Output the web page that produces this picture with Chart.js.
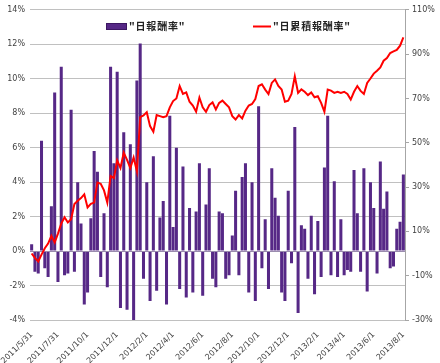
<!DOCTYPE html>
<html><head><meta charset="utf-8">
<script src="https://cdn.jsdelivr.net/npm/chart.js@4"></script>
<style>html,body{margin:0;padding:0;background:#fff}canvas{display:block}</style>
</head><body>
<canvas id="c" width="440" height="363"></canvas>
<script>
// Weekly dates (categories)
const categories = [
'2011/6/3','2011/6/10','2011/6/17','2011/6/24','2011/7/1','2011/7/8','2011/7/15','2011/7/22','2011/7/29','2011/8/5','2011/8/12','2011/8/19','2011/8/26','2011/9/2','2011/9/9','2011/9/16','2011/9/23','2011/9/30','2011/10/7','2011/10/14','2011/10/21','2011/10/28','2011/11/4','2011/11/11','2011/11/18','2011/11/25','2011/12/2','2011/12/9','2011/12/16','2011/12/23','2011/12/30',
'2012/1/6','2012/1/13','2012/1/20','2012/1/27','2012/2/3','2012/2/10','2012/2/17','2012/2/24','2012/3/2','2012/3/9','2012/3/16','2012/3/23','2012/3/30','2012/4/6','2012/4/13','2012/4/20','2012/4/27','2012/5/4','2012/5/11','2012/5/18','2012/5/25','2012/6/1','2012/6/8','2012/6/15','2012/6/22','2012/6/29','2012/7/6','2012/7/13','2012/7/20','2012/7/27','2012/8/3','2012/8/10','2012/8/17','2012/8/24','2012/8/31','2012/9/7','2012/9/14','2012/9/21','2012/9/28','2012/10/5','2012/10/12','2012/10/19','2012/10/26','2012/11/2','2012/11/9','2012/11/16','2012/11/23','2012/11/30','2012/12/7','2012/12/14','2012/12/21','2012/12/28',
'2013/1/4','2013/1/11','2013/1/18','2013/1/25','2013/2/1','2013/2/8','2013/2/15','2013/2/22','2013/3/1','2013/3/8','2013/3/15','2013/3/22','2013/3/29','2013/4/5','2013/4/12','2013/4/19','2013/4/26','2013/5/3','2013/5/10','2013/5/17','2013/5/24','2013/5/31','2013/6/7','2013/6/14','2013/6/21','2013/6/28','2013/7/5','2013/7/12','2013/7/19','2013/7/26','2013/8/2'
];

// "日報酬率" (%), left axis
const dailyReturn = [
0.4,-1.2,-1.3,6.4,-1.0,-1.5,2.6,9.2,-1.8,10.7,-1.4,-1.3,8.2,-1.2,4.0,1.6,-3.1,-2.4,1.9,5.8,
4.6,-1.5,2.2,-2.1,10.7,5.1,10.4,-3.3,6.9,-3.4,6.2,-4.0,9.9,12.05,-1.6,4.0,-2.9,5.5,-2.3,1.95,
2.9,-3.1,7.85,1.4,6.0,-2.2,4.9,-2.7,2.5,-2.4,2.3,5.1,-2.6,2.7,4.8,-1.6,-2.1,2.3,2.2,-1.6,
-1.4,0.9,3.5,-1.4,4.3,5.1,-2.4,4.0,-2.9,8.4,-1.0,1.85,-2.2,4.8,3.1,2.05,-2.4,-2.9,3.5,-0.7,
7.2,-3.6,1.5,1.3,-1.6,2.05,-2.5,1.75,-1.5,4.85,7.85,-1.4,4.05,-1.5,1.85,-1.4,-1.1,-1.2,4.7,2.2,
-1.2,4.8,-2.35,4.0,2.5,-1.3,5.2,2.45,3.45,-1.0,-0.9,1.3,1.7,4.45
];

// "日累積報酬率" (%), right axis
const cumulativeReturn = [
0,-2,-3.6,-0.5,2.4,4.5,8,5,9,13.5,16.4,14,15.5,22.3,23.8,25,26.7,20.8,22.4,23,
32,31.5,28.5,23,35,34,42,38.6,45.5,42.3,38.6,43.3,37.1,61.6,62.3,63.8,57.5,55,62.5,62,
61.5,62,66,68.8,70,75.6,72,72.7,68.5,66.8,64,70.4,66,64,67,68.2,65,68,69,67.5,
66,62,60.5,62.5,61,64.5,66.8,67.5,69.7,75.6,76.4,74,72,77,78.6,75.6,74,68.5,69,72,
80,72.5,74.1,73,71.5,72.7,70.5,71,68,64,74,73.5,72.5,73,72.5,73,72,69.5,73,75.6,
73.4,72,77,79,81.2,82.5,84,87,88.2,90.5,91.2,91.9,93.8,97.5
];

const tickLabels = ['2011/5/31','2011/7/31','2011/10/1','2011/12/1','2012/2/1','2012/4/1','2012/6/1','2012/8/1','2012/10/1','2012/12/1','2013/2/1','2013/4/1','2013/6/1','2013/8/1'];
const leftTicks = [-4,-2,0,2,4,6,8,10,12,14];
const rightTicks = [-30,-10,10,30,50,70,90,110];
const barName = '"日報酬率"';
const lineName = '"日累積報酬率"';

// place each tick label on the nearest weekly category
const tickAt = {};
tickLabels.forEach(t => {
  const d = Date.parse(t); let best = 0, bd = Infinity;
  categories.forEach((c, i) => { const dd = Math.abs(Date.parse(c) - d); if (dd < bd) { bd = dd; best = i; } });
  tickAt[best] = t;
});

const BAR = '#562886', BAR_EDGE = '#3c1762', LINE = '#ff0000';
const tickFont = {family: 'DejaVu Sans', size: 8};
const tickColor = '#3f3f3f';

const zeroLine = {
  id: 'zeroLine',
  afterDatasetDraw(chart, args) {
    if (chart.data.datasets[args.index].type !== 'bar') return;
    const {ctx, chartArea: a, scales} = chart;
    const y = Math.round(scales.y.getPixelForValue(0)) + 0.5;
    ctx.save(); ctx.strokeStyle = '#9a8cae'; ctx.lineWidth = 1;
    ctx.beginPath(); ctx.moveTo(a.left, y); ctx.lineTo(a.right, y); ctx.stroke(); ctx.restore();
  }
};

const insideLegend = {
  id: 'insideLegend',
  afterDraw(chart) {
    const ctx = chart.ctx; ctx.save();
    const ds = chart.data.datasets;
    const bar = ds.find(d => d.type === 'bar'), line = ds.find(d => d.type === 'line');
    ctx.font = 'bold 10px "Noto Sans CJK TC"';
    ctx.textBaseline = 'middle';
    try { ctx.letterSpacing = '0.8px'; } catch (e) {}
    const y = 26.5;
    ctx.fillStyle = bar.backgroundColor; ctx.fillRect(106, 23, 21, 7);
    ctx.strokeStyle = BAR_EDGE; ctx.lineWidth = 1; ctx.strokeRect(106.5, 23.5, 20, 6);
    ctx.fillStyle = '#222'; ctx.fillText(bar.label, 129, y);
    ctx.strokeStyle = line.borderColor; ctx.lineWidth = 2;
    ctx.beginPath(); ctx.moveTo(253, y); ctx.lineTo(271, y); ctx.stroke();
    ctx.fillText(line.label, 273, y);
    ctx.restore();
  }
};

new Chart(document.getElementById('c'), {
  data: {
    labels: categories,
    datasets: [
      {type: 'line', label: lineName, data: cumulativeReturn, yAxisID: 'y1',
       borderColor: LINE, borderWidth: 2, pointRadius: 0, tension: 0, order: 0},
      {type: 'bar', label: barName, data: dailyReturn, yAxisID: 'y',
       backgroundColor: BAR, borderColor: BAR_EDGE, borderWidth: 0,
       barPercentage: 0.92, categoryPercentage: 1, order: 1}
    ]
  },
  options: {
    responsive: false, animation: false, devicePixelRatio: 1,
    layout: {padding: {top: 6, left: 0, right: 0, bottom: 0}},
    plugins: {legend: {display: false}, tooltip: {enabled: false}},
    scales: {
      x: {
        grid: {display: false}, border: {display: false},
        ticks: {autoSkip: false, minRotation: 45, maxRotation: 45, padding: 2,
                font: tickFont, color: tickColor,
                callback: (v, i) => tickAt[i] || ''},
        afterFit: s => { s.height = 43; }
      },
      y: {
        position: 'left', min: leftTicks[0], max: leftTicks[leftTicks.length - 1],
        border: {display: false},
        grid: {color: '#c0c0c0', lineWidth: 1, drawTicks: false},
        ticks: {stepSize: leftTicks[1] - leftTicks[0], padding: 5, font: tickFont, color: tickColor,
                callback: v => v + '%'},
        afterFit: s => { s.width = 30; }
      },
      y1: {
        position: 'right', min: rightTicks[0], max: rightTicks[rightTicks.length - 1],
        border: {display: true, color: '#a6a6a6'},
        grid: {drawOnChartArea: false, color: '#a6a6a6', tickLength: 4},
        ticks: {stepSize: rightTicks[1] - rightTicks[0], padding: 3, font: tickFont, color: tickColor,
                callback: v => v + '%'},
        afterFit: s => { s.width = 35; }
      }
    }
  },
  plugins: [zeroLine, insideLegend]
});
</script>
</body></html>
